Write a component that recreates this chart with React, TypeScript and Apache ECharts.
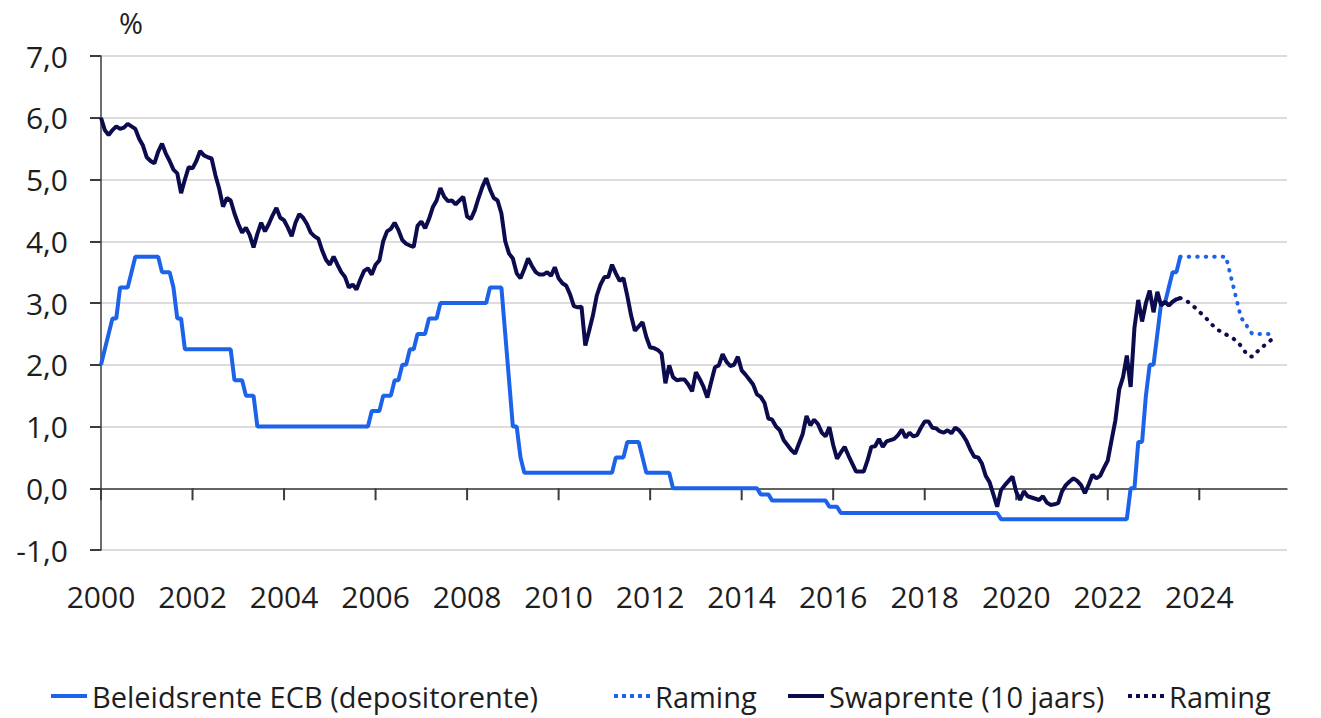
import React, { useEffect, useRef } from "react";
import * as echarts from "echarts";

// Monthly values, first point = January 2000
const START_YEAR = 2000;
const ecbRate: number[] = [
  // 2000
  2.0, 2.25, 2.5, 2.75, 2.75, 3.25, 3.25, 3.25, 3.5, 3.75, 3.75, 3.75,
  // 2001
  3.75, 3.75, 3.75, 3.75, 3.5, 3.5, 3.5, 3.25, 2.75, 2.75, 2.25, 2.25,
  // 2002
  2.25, 2.25, 2.25, 2.25, 2.25, 2.25, 2.25, 2.25, 2.25, 2.25, 2.25, 1.75,
  // 2003
  1.75, 1.75, 1.5, 1.5, 1.5, 1.0, 1.0, 1.0, 1.0, 1.0, 1.0, 1.0,
  // 2004
  1.0, 1.0, 1.0, 1.0, 1.0, 1.0, 1.0, 1.0, 1.0, 1.0, 1.0, 1.0,
  // 2005
  1.0, 1.0, 1.0, 1.0, 1.0, 1.0, 1.0, 1.0, 1.0, 1.0, 1.0, 1.25,
  // 2006
  1.25, 1.25, 1.5, 1.5, 1.5, 1.75, 1.75, 2.0, 2.0, 2.25, 2.25, 2.5,
  // 2007
  2.5, 2.5, 2.75, 2.75, 2.75, 3.0, 3.0, 3.0, 3.0, 3.0, 3.0, 3.0,
  // 2008
  3.0, 3.0, 3.0, 3.0, 3.0, 3.0, 3.25, 3.25, 3.25, 3.25, 2.5, 1.75,
  // 2009
  1.0, 1.0, 0.5, 0.25, 0.25, 0.25, 0.25, 0.25, 0.25, 0.25, 0.25, 0.25,
  // 2010
  0.25, 0.25, 0.25, 0.25, 0.25, 0.25, 0.25, 0.25, 0.25, 0.25, 0.25, 0.25,
  // 2011
  0.25, 0.25, 0.25, 0.5, 0.5, 0.5, 0.75, 0.75, 0.75, 0.75, 0.5, 0.25,
  // 2012
  0.25, 0.25, 0.25, 0.25, 0.25, 0.25, 0.0, 0.0, 0.0, 0.0, 0.0, 0.0,
  // 2013
  0.0, 0.0, 0.0, 0.0, 0.0, 0.0, 0.0, 0.0, 0.0, 0.0, 0.0, 0.0,
  // 2014
  0.0, 0.0, 0.0, 0.0, 0.0, -0.1, -0.1, -0.1, -0.2, -0.2, -0.2, -0.2,
  // 2015
  -0.2, -0.2, -0.2, -0.2, -0.2, -0.2, -0.2, -0.2, -0.2, -0.2, -0.2, -0.3,
  // 2016
  -0.3, -0.3, -0.4, -0.4, -0.4, -0.4, -0.4, -0.4, -0.4, -0.4, -0.4, -0.4,
  // 2017
  -0.4, -0.4, -0.4, -0.4, -0.4, -0.4, -0.4, -0.4, -0.4, -0.4, -0.4, -0.4,
  // 2018
  -0.4, -0.4, -0.4, -0.4, -0.4, -0.4, -0.4, -0.4, -0.4, -0.4, -0.4, -0.4,
  // 2019
  -0.4, -0.4, -0.4, -0.4, -0.4, -0.4, -0.4, -0.4, -0.5, -0.5, -0.5, -0.5,
  // 2020
  -0.5, -0.5, -0.5, -0.5, -0.5, -0.5, -0.5, -0.5, -0.5, -0.5, -0.5, -0.5,
  // 2021
  -0.5, -0.5, -0.5, -0.5, -0.5, -0.5, -0.5, -0.5, -0.5, -0.5, -0.5, -0.5,
  // 2022
  -0.5, -0.5, -0.5, -0.5, -0.5, -0.5, 0.0, 0.0, 0.75, 0.75, 1.5, 2.0,
  // 2023 (Jan-Aug)
  2.0, 2.5, 3.0, 3.0, 3.25, 3.5, 3.5, 3.75,
];

const swapRate: number[] = [
  // 2000
  6.0, 5.8, 5.72, 5.8, 5.86, 5.82, 5.84, 5.9, 5.86, 5.82, 5.66, 5.55,
  // 2001
  5.36, 5.3, 5.26, 5.45, 5.58, 5.42, 5.3, 5.16, 5.1, 4.78, 5.0, 5.2,
  // 2002
  5.18, 5.3, 5.46, 5.39, 5.36, 5.34, 5.07, 4.85, 4.56, 4.7, 4.66, 4.45,
  // 2003
  4.28, 4.14, 4.22, 4.1, 3.9, 4.12, 4.3, 4.16, 4.28, 4.42, 4.54, 4.38,
  // 2004
  4.34, 4.22, 4.08, 4.3, 4.44, 4.38, 4.28, 4.14, 4.08, 4.04, 3.85, 3.7,
  // 2005
  3.62, 3.75, 3.62, 3.5, 3.42, 3.25, 3.3, 3.22, 3.38, 3.52, 3.56, 3.46,
  // 2006
  3.62, 3.69, 4.0, 4.16, 4.2, 4.3, 4.18, 4.02, 3.96, 3.93, 3.91, 4.25,
  // 2007
  4.32, 4.21, 4.36, 4.55, 4.66, 4.86, 4.72, 4.65, 4.66, 4.6, 4.66, 4.72,
  // 2008
  4.4, 4.36, 4.5, 4.7, 4.88, 5.02, 4.84, 4.7, 4.66, 4.45, 4.0, 3.8,
  // 2009
  3.72, 3.48, 3.4, 3.55, 3.72, 3.6, 3.5, 3.46, 3.46, 3.5, 3.44, 3.58,
  // 2010
  3.4, 3.32, 3.28, 3.14, 2.95, 2.93, 2.94, 2.31, 2.55, 2.8, 3.12, 3.3,
  // 2011
  3.42, 3.42, 3.62, 3.48, 3.36, 3.4, 3.12, 2.8, 2.55, 2.62, 2.69, 2.45,
  // 2012
  2.28, 2.27, 2.24, 2.18, 1.7, 1.99, 1.8, 1.75, 1.76, 1.76, 1.68, 1.57,
  // 2013
  1.88, 1.77, 1.64, 1.47, 1.72, 1.96, 1.99, 2.17, 2.05, 1.98, 2.0, 2.13,
  // 2014
  1.91, 1.84, 1.76, 1.68, 1.52, 1.48, 1.38, 1.13, 1.11, 1.0, 0.94, 0.78,
  // 2015
  0.7, 0.62, 0.56, 0.72, 0.88, 1.17, 1.02, 1.11, 1.04, 0.9, 0.84, 0.99,
  // 2016
  0.7, 0.48, 0.58, 0.67, 0.53, 0.4, 0.27, 0.27, 0.27, 0.45, 0.67, 0.68,
  // 2017
  0.8, 0.67, 0.76, 0.78, 0.8, 0.86, 0.95, 0.82, 0.9, 0.84, 0.86, 0.98,
  // 2018
  1.08, 1.08, 0.98, 0.97, 0.92, 0.9, 0.94, 0.89, 0.98, 0.94, 0.86, 0.76,
  // 2019
  0.62, 0.51, 0.5, 0.4, 0.2, 0.1, -0.1, -0.3, -0.03, 0.05, 0.12, 0.19,
  // 2020
  -0.06, -0.19, -0.05, -0.13, -0.15, -0.17, -0.19, -0.13, -0.23, -0.27, -0.26, -0.24,
  // 2021
  -0.05, 0.05, 0.11, 0.16, 0.12, 0.05, -0.08, 0.06, 0.22, 0.16, 0.2, 0.33,
  // 2022
  0.45, 0.78, 1.1, 1.6, 1.8, 2.15, 1.64, 2.6, 3.05, 2.7, 3.0, 3.2,
  // 2023 (Jan-Aug)
  2.85, 3.18, 2.96, 3.02, 2.96, 3.02, 3.06, 3.08,
];

// Forecasts ("Raming"), monthly, starting at the last actual month (August 2023)
const FORECAST_START_MONTH = 283;
const ecbForecast: number[] = [
  3.75, 3.75, 3.75, 3.75, 3.75, 3.75, 3.75, 3.75, 3.75, 3.75, 3.75, 3.75, 3.75,
  3.5, 3.25, 3.0, 2.75, 2.7, 2.55, 2.5, 2.5, 2.5, 2.5, 2.5, 2.5,
];
const swapForecast: number[] = [
  3.08, 3.06, 3.02, 2.97, 2.92, 2.86, 2.8, 2.74, 2.67, 2.61, 2.56, 2.53, 2.49,
  2.46, 2.42, 2.37, 2.3, 2.21, 2.14, 2.13, 2.2, 2.26, 2.31, 2.36, 2.41,
];

const xTickYears = [2000, 2002, 2004, 2006, 2008, 2010, 2012, 2014, 2016, 2018, 2020, 2022, 2024];
const X_MAX_MONTH = 311; // December 2025

const NAME_ECB = "Beleidsrente ECB (depositorente)";
const NAME_ECB_F = "Raming ECB";
const NAME_SWAP = "Swaprente (10 jaars)";
const NAME_SWAP_F = "Raming swap";

const BLUE = "#1c63ea";
const NAVY = "#0b0b4e";
const AXIS = "#3c3c3c";
const FONT = "Open Sans";

const SOLID_ICON = "path://M0,0h36v4h-36z";
const DOTTED_ICON =
  "path://M0,0h4v4h-4zM8,0h4v4h-4zM16,0h4v4h-4zM24,0h4v4h-4zM32,0h4v4h-4z";

const toPoints = (vals: number[], startMonth: number) =>
  vals.map((v, i) => [START_YEAR + (startMonth + i) / 12, v]);

const legendAt = (left: number, name: string, icon: string) => ({
  left,
  top: 676,
  padding: 5,
  itemWidth: 36,
  itemHeight: 4,
  itemGap: 0,
  selectedMode: false,
  itemStyle: { borderWidth: 0 },
  data: [{ name, icon }],
  formatter: (n: string) => (n.startsWith("Raming") ? "Raming" : n),
  textStyle: { fontSize: 29, lineHeight: 30, fontFamily: FONT, color: "#1e1e1e" },
});

export default function App() {
  const ref = useRef<HTMLDivElement>(null);
  useEffect(() => {
    if (!ref.current) return;
    const chart = echarts.init(ref.current, undefined, { renderer: "svg" });
    chart.setOption({
      animation: false,
      backgroundColor: "#ffffff",
      textStyle: { fontFamily: FONT },
      grid: { left: 101, right: 34, top: 56, bottom: 168, containLabel: false },
      graphic: [
        {
          type: "text",
          left: 119,
          top: 8,
          style: { text: "%", fontSize: 29, fontFamily: FONT, fill: "#222" },
        },
      ],
      legend: [
        legendAt(46, NAME_ECB, SOLID_ICON),
        legendAt(609, NAME_ECB_F, DOTTED_ICON),
        legendAt(783, NAME_SWAP, SOLID_ICON),
        legendAt(1123, NAME_SWAP_F, DOTTED_ICON),
      ],
      xAxis: {
        type: "value",
        min: START_YEAR,
        max: START_YEAR + X_MAX_MONTH / 12,
        axisLine: { show: true, onZero: true, lineStyle: { color: AXIS, width: 1.5 } },
        axisTick: { show: false },
        axisLabel: {
          customValues: xTickYears,
          formatter: (v: number) => String(Math.round(v)),
          margin: 31,
          fontSize: 30,
          fontFamily: FONT,
          color: "#1e1e1e",
        },
        splitLine: { show: false },
      },
      yAxis: {
        type: "value",
        min: -1,
        max: 7,
        interval: 1,
        axisLine: { show: true, lineStyle: { color: AXIS, width: 1.5 } },
        axisTick: { show: true, length: 11, lineStyle: { color: AXIS, width: 2 } },
        axisLabel: {
          formatter: (v: number) => v.toFixed(1).replace(".", ","),
          margin: 33,
          fontSize: 30,
          fontFamily: FONT,
          color: "#1e1e1e",
        },
        splitLine: { show: true, lineStyle: { color: "#dcdcdc", width: 2 } },
      },
      series: [
        {
          // tick marks of the x axis, hanging below the zero line
          type: "custom",
          silent: true,
          z: 2,
          data: xTickYears.map((y) => [y, 0]),
          renderItem: (_params: any, api: any) => {
            const p = api.coord([api.value(0), api.value(1)]);
            return {
              type: "line",
              shape: { x1: p[0], y1: p[1], x2: p[0], y2: p[1] + 12 },
              style: { stroke: AXIS, lineWidth: 2 },
            };
          },
        },
        {
          name: NAME_ECB,
          type: "line",
          data: toPoints(ecbRate, 0),
          symbol: "none",
          lineStyle: { color: BLUE, width: 4 },
          itemStyle: { color: BLUE },
          z: 3,
        },
        {
          name: NAME_ECB_F,
          type: "line",
          data: toPoints(ecbForecast, FORECAST_START_MONTH),
          symbol: "none",
          lineStyle: { color: BLUE, width: 4, type: [0.5, 8], cap: "round" },
          itemStyle: { color: BLUE },
          z: 3,
        },
        {
          name: NAME_SWAP,
          type: "line",
          data: toPoints(swapRate, 0),
          symbol: "none",
          lineStyle: { color: NAVY, width: 4 },
          itemStyle: { color: NAVY },
          z: 4,
        },
        {
          name: NAME_SWAP_F,
          type: "line",
          data: toPoints(swapForecast, FORECAST_START_MONTH),
          symbol: "none",
          lineStyle: { color: NAVY, width: 4, type: [0.5, 8], cap: "round" },
          itemStyle: { color: NAVY },
          z: 4,
        },
      ],
    });
    return () => chart.dispose();
  }, []);
  return (
    <div
      ref={ref}
      style={{ position: "fixed", left: 0, top: 0, width: 1321, height: 718, background: "#fff" }}
    />
  );
}
